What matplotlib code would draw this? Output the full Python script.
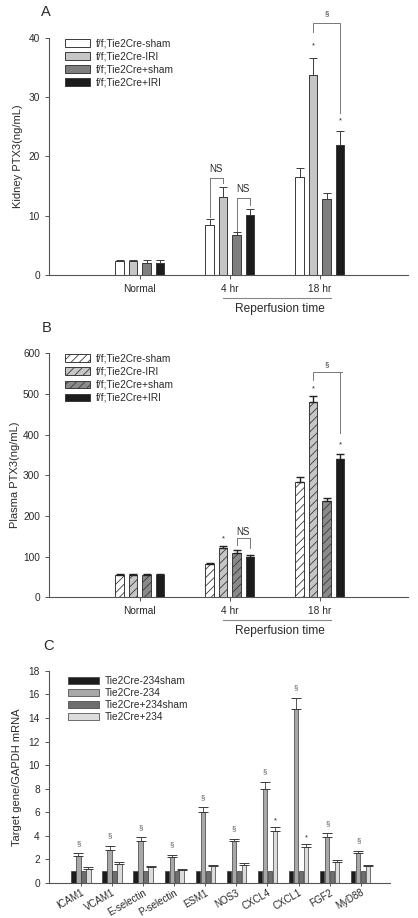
import numpy as np
import matplotlib
matplotlib.use('Agg')
import matplotlib.pyplot as plt
from matplotlib.transforms import blended_transform_factory

plt.rcParams['font.family'] = ['Liberation Sans', 'DejaVu Sans']
plt.rcParams['hatch.linewidth'] = 0.6
plt.rcParams['hatch.color'] = '#333333'

# ---- data ----
times = ['Normal', '4 hr', '18 hr']
series_ab = ['f/f;Tie2Cre-sham', 'f/f;Tie2Cre-IRI', 'f/f;Tie2Cre+sham', 'f/f;Tie2Cre+IRI']

kidney = [[2.3, 8.5, 16.5],
          [2.3, 13.1, 33.8],
          [2.1, 6.7, 12.9],
          [2.1, 10.1, 21.9]]
kidney_err = [[0.3, 1.0, 1.6],
              [0.3, 1.8, 2.8],
              [0.4, 0.6, 1.0],
              [0.4, 1.1, 2.3]]

plasma = [[55, 82, 283],
          [55, 120, 480],
          [55, 110, 236],
          [55, 99, 340]]
plasma_err = [[2, 3, 13],
              [2, 7, 15],
              [2, 5, 8],
              [2, 5, 12]]

genes = ['ICAM1', 'VCAM1', 'E-selectin', 'P-selectin', 'ESM1', 'NOS3',
         'CXCL4', 'CXCL1', 'FGF2', 'MyD88']
series_c = ['Tie2Cre-234sham', 'Tie2Cre-234', 'Tie2Cre+234sham', 'Tie2Cre+234']
mrna = [[1, 1, 1, 1, 1, 1, 1, 1, 1, 1],
        [2.3, 2.8, 3.5, 2.2, 6.0, 3.5, 8.0, 14.8, 3.9, 2.5],
        [1, 1, 1, 1, 1, 1, 1, 1, 1, 1],
        [1.2, 1.6, 1.3, 1.05, 1.4, 1.5, 4.4, 3.0, 1.75, 1.4]]
mrna_err = [[0, 0, 0, 0, 0, 0, 0, 0, 0, 0],
            [0.2, 0.3, 0.35, 0.15, 0.4, 0.2, 0.6, 0.9, 0.3, 0.2],
            [0, 0, 0, 0, 0, 0, 0, 0, 0, 0],
            [0.1, 0.15, 0.1, 0.07, 0.1, 0.2, 0.3, 0.25, 0.15, 0.1]]

txt = '#2a2a2a'
edge = '#3a3a3a'
fs_tick = 7.3

fig = plt.figure(figsize=(4.18, 9.18), dpi=100)


def style(ax):
    for s in ['top', 'right']:
        ax.spines[s].set_visible(False)
    for s in ['left', 'bottom']:
        ax.spines[s].set_color('#555555')
        ax.spines[s].set_linewidth(0.8)
    ax.tick_params(direction='out', length=3, width=0.7, colors='#555555',
                   labelsize=fs_tick, labelcolor=txt)


def bracket(ax, x1, x2, ytop, y1, y2, label, dy):
    ax.plot([x1, x1, x2, x2], [y1, ytop, ytop, y2], color='#777777', lw=0.7,
            clip_on=False)
    ax.text((x1 + x2) / 2, ytop + dy, label, ha='center', va='bottom',
            fontsize=7 if label == 'NS' else 5.5, color=txt)


# ---------- Panel A ----------
axA = fig.add_axes([0.117, 0.7004, 0.859, 0.2585])
style(axA)
x = np.arange(len(times))
offs = [-0.225, -0.075, 0.075, 0.225]
colsA = ['white', '#c6c6c6', '#7e7e7e', '#1c1c1c']
for i in range(4):
    axA.bar(x + offs[i], kidney[i], 0.095, color=colsA[i], edgecolor=edge,
            linewidth=0.7, label=series_ab[i])
    axA.errorbar(x + offs[i], kidney[i], yerr=[np.zeros(3), kidney_err[i]],
                 fmt='none', ecolor=edge, elinewidth=0.7, capsize=3, capthick=0.7)
axA.set_xlim(-1.01, 2.98)
axA.set_ylim(0, 40)
axA.set_yticks(range(0, 41, 10))
axA.set_xticks(x)
axA.set_xticklabels(times)
axA.set_ylabel('Kidney PTX3(ng/mL)', fontsize=8, color=txt, labelpad=4)
axA.legend(loc='upper left', bbox_to_anchor=(0.02, 1.035), frameon=False,
           fontsize=7.3, handlelength=2.4, handleheight=0.8, labelspacing=0.3,
           handletextpad=0.6, labelcolor=txt)
bracket(axA, 1 + offs[0], 1 + offs[1], 16.4, 9.7, 15.5, 'NS', 0.6)
bracket(axA, 1 + offs[2], 1 + offs[3], 13.0, 7.5, 11.8, 'NS', 0.6)
bracket(axA, 2 + offs[1], 2 + offs[3], 42.5, 41.0, 27.3, '§', 1.0)
axA.text(2 + offs[1], 38.3, '*', ha='center', fontsize=5.5, color=txt)
axA.text(2 + offs[3], 25.8, '*', ha='center', fontsize=5.5, color=txt)
tA = blended_transform_factory(axA.transData, axA.transAxes)
axA.plot([0.92, 2.13], [-0.097, -0.097], color='#888888', lw=0.8,
         transform=tA, clip_on=False)
axA.text(1.555, -0.118, 'Reperfusion time', transform=tA, ha='center',
         va='top', fontsize=8.6, color=txt)

# ---------- Panel B ----------
axB = fig.add_axes([0.117, 0.3494, 0.859, 0.2658])
style(axB)
colsB = ['white', '#c6c6c6', '#8a8a8a', '#1c1c1c']
hatchB = ['////', '////', '////', None]
for i in range(4):
    axB.bar(x + offs[i], plasma[i], 0.095, color=colsB[i], edgecolor=edge,
            linewidth=0.7, hatch=hatchB[i], label=series_ab[i])
    axB.errorbar(x + offs[i], plasma[i], yerr=[np.zeros(3), plasma_err[i]],
                 fmt='none', ecolor='#222222', elinewidth=1.0, capsize=3, capthick=1.0)
axB.set_xlim(-1.01, 2.98)
axB.set_ylim(0, 600)
axB.set_yticks(range(0, 601, 100))
axB.set_xticks(x)
axB.set_xticklabels(times)
axB.set_ylabel('Plasma PTX3(ng/mL)', fontsize=8, color=txt, labelpad=2)
axB.legend(loc='upper left', bbox_to_anchor=(0.02, 1.035), frameon=False,
           fontsize=7.3, handlelength=2.4, handleheight=0.8, labelspacing=0.3,
           handletextpad=0.6, labelcolor=txt)
bracket(axB, 1 + offs[2], 1 + offs[3], 146, 129, 121, 'NS', 3)
bracket(axB, 2 + offs[1], 2 + offs[3], 554, 535, 404, '§', 10)
axB.plot([2 + offs[3] - 0.02, 2 + offs[3] + 0.02], [554, 554], color='#777777', lw=0.7)
axB.text(1 + offs[1], 140, '*', ha='center', fontsize=5.5, color=txt)
axB.text(2 + offs[1], 508, '*', ha='center', fontsize=5.5, color=txt)
axB.text(2 + offs[3], 372, '*', ha='center', fontsize=5.5, color=txt)
tB = blended_transform_factory(axB.transData, axB.transAxes)
axB.plot([0.92, 2.13], [-0.093, -0.093], color='#888888', lw=0.8,
         transform=tB, clip_on=False)
axB.text(1.555, -0.113, 'Reperfusion time', transform=tB, ha='center',
         va='top', fontsize=8.6, color=txt)

# ---------- Panel C ----------
axC = fig.add_axes([0.117, 0.0385, 0.816, 0.2306])
style(axC)
xc = np.arange(len(genes))
offc = [-0.24, -0.08, 0.08, 0.24]
colsC = ['#1c1c1c', '#a8a8a8', '#6e6e6e', '#dcdcdc']
for i in range(4):
    axC.bar(xc + offc[i], mrna[i], 0.14, color=colsC[i], edgecolor=edge,
            linewidth=0.5, label=series_c[i])
    if max(mrna_err[i]) > 0:
        axC.errorbar(xc + offc[i], mrna[i], yerr=[np.zeros(10), mrna_err[i]],
                     fmt='none', ecolor=edge, elinewidth=0.6, capsize=3.5, capthick=0.7)
for j in range(len(genes)):
    axC.text(xc[j] + offc[1], mrna[1][j] + mrna_err[1][j] + 0.55, '§',
             ha='center', va='bottom', fontsize=5.5, color='#555555')
for j in [6, 7]:
    axC.text(xc[j] + offc[3], mrna[3][j] + mrna_err[3][j] + 0.25, '*',
             ha='center', va='bottom', fontsize=5.5, color=txt)
axC.set_xlim(-1.03, 9.94)
axC.set_ylim(0, 18)
axC.set_yticks(range(0, 19, 2))
axC.set_xticks(xc)
axC.set_xticklabels(genes, rotation=30, ha='right', rotation_mode='anchor')
axC.tick_params(axis='x', length=2, pad=1.5, labelsize=7)
axC.set_ylabel('Target gene/GAPDH mRNA', fontsize=8, color=txt, labelpad=5)
axC.legend(loc='upper left', bbox_to_anchor=(0.03, 1.02), frameon=False,
           fontsize=7.3, handlelength=3.0, handleheight=0.75, labelspacing=0.2,
           handletextpad=0.6, labelcolor=txt)

fig.text(0.098, 0.987, 'A', fontsize=10.5, color=txt, va='center')
fig.text(0.101, 0.643, 'B', fontsize=10.5, color=txt, va='center')
fig.text(0.103, 0.296, 'C', fontsize=10.5, color=txt, va='center')

fig.savefig('out.png', dpi=100)
